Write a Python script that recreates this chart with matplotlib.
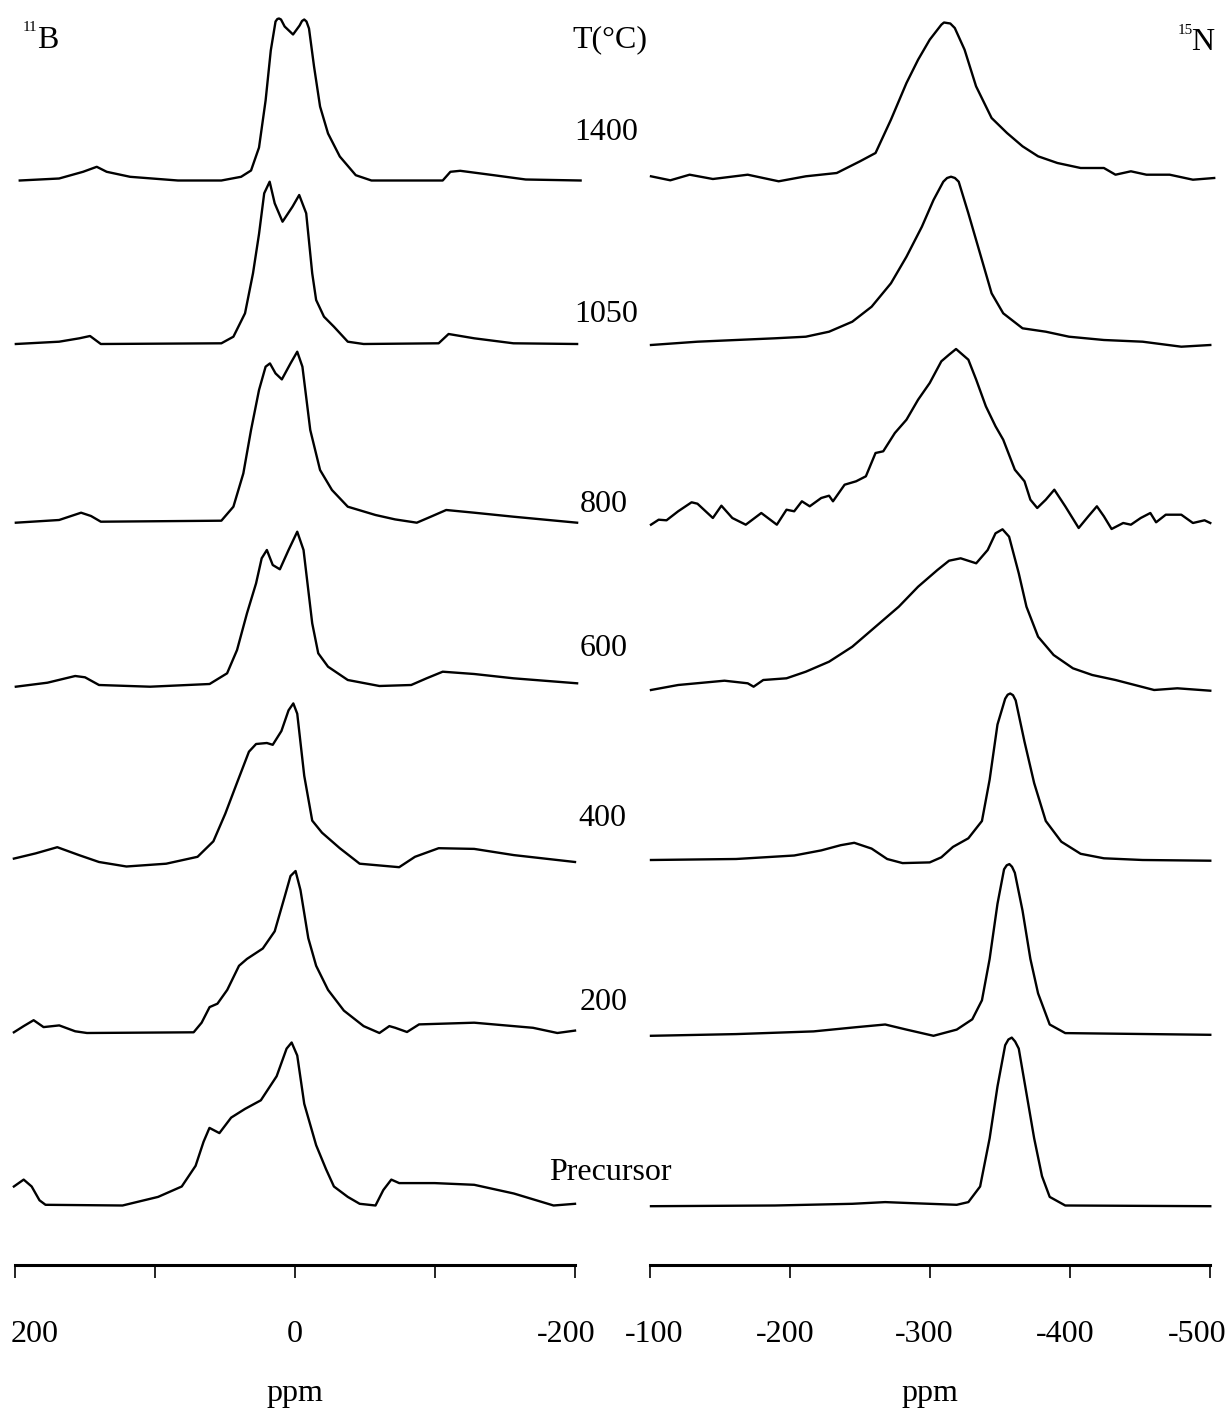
"""
11B / 15N solid-state NMR spectra vs. pyrolysis temperature (stacked plot)
"""
import matplotlib
matplotlib.use("Agg")
import matplotlib.pyplot as plt
import matplotlib.transforms as mtransforms

plt.rcParams["font.family"] = ["Liberation Serif", "DejaVu Serif"]

W, H = 1227, 1417
DPI = 100

# ── data (ppm, intensity) ─────────────────────────────────────────
temps = ["1400", "1050", "800", "600", "400", "200", "Precursor"]

b1400_x = [196.6, 168.5, 151.4, 141.6, 134.5, 117.8, 83.6, 52.6, 38.5, 31.4, 25.7, 21.0, 17.3, 13.9, 12.6, 11.4, 10.0,
           7.4, 1.4, -3.3, -5.0, -6.6, -8.2, -10.0, -13.6, -17.9, -23.6, -32.0, -43.4, -54.6, -105.5, -111.0, -118.0,
           -142.0, -164.8, -204.0]
b1400_y = [0, 2, 8.7, 13.7, 8.7, 3.7, 0, 0, 3.7, 10, 33, 80, 130, 159, 161.5, 162, 161,
           154, 146, 155, 159.5, 161, 159, 152, 114, 74, 47, 24, 5.3, 0, 0, 8.7, 9.7,
           5.3, 1, 0]

b1050_x = [199.4, 168.5, 154.0, 146.4, 138.7, 52.6, 44.0, 35.7, 30.0, 25.7, 22.0, 18.1, 14.5, 8.9, 1.8, -3.0,
           -8.0, -12.3, -15.1, -20.7, -27.8, -37.7, -49.0, -102.6, -109.7, -128.0, -156.0, -201.5]
b1050_y = [0, 2.3, 5.7, 8, 0, 0.7, 7.3, 30.7, 70.7, 110, 150.7, 162.3, 140.7, 122.3, 137.3, 149,
           130.7, 70.7, 44, 27.3, 17.3, 2.3, 0, 0.7, 10, 5.7, 0.7, 0]

b800_x = [199.4, 168.5, 152.8, 145.7, 138.7, 52.6, 44.0, 36.9, 31.4, 25.7, 21.0, 17.9, 13.9, 9.4, 3.2, -1.6,
          -5.3, -10.9, -17.9, -26.4, -37.7, -57.5, -71.5, -87.0, -97.0, -108.0, -128.0, -156.0, -201.5]
b800_y = [0, 2.7, 10, 6.7, 1, 2, 16, 49.3, 92.7, 132.7, 156, 159.3, 149.3, 143.3, 159.3, 171,
          156, 92.7, 52.7, 32.7, 16, 7.7, 3.3, 0, 6, 12.7, 10, 6, 0]

b600_x = [199.4, 176.8, 157.0, 150.0, 140.0, 103.5, 61.0, 48.5, 41.4, 34.3, 27.8, 23.8, 20.1, 15.9, 10.8, 4.6,
          -1.6, -6.1, -12.3, -16.6, -23.6, -37.7, -60.3, -83.0, -94.0, -105.5, -128.0, -156.0, -201.5]
b600_y = [-1.7, 2.3, 9, 7.7, 0, -1.7, 1, 11.7, 35, 71.7, 101.7, 126.7, 135, 120, 115.7, 135,
          153.3, 135, 61.7, 31.7, 18.3, 5, -1, 0, 6.7, 13.3, 11, 6.7, 1.7]

b400_x = [200.8, 185.3, 169.8, 154.3, 140.0, 120.4, 92.0, 69.6, 58.3, 49.8, 41.4, 32.9, 27.8, 20.1, 15.9, 9.7,
          4.6, 1.2, -1.6, -6.6, -12.3, -19.3, -32.0, -46.2, -74.4, -85.7, -102.6, -128.0, -156.3, -200.0]
b400_y = [3.4, 8.6, 14.8, 6.9, 0, -4.5, -1.7, 5.2, 20.7, 48.3, 79.3, 110.3, 118, 119, 117.2, 131,
          151.7, 158.6, 148.3, 86.2, 41.4, 29.3, 13.8, -1.7, -5.2, 5.2, 13.8, 13.1, 6.9, 0]

b200_x = [200.8, 193.8, 186.7, 179.6, 168.4, 157.0, 148.6, 72.4, 66.7, 61.0, 55.4, 48.4, 40.0, 34.3, 23.0, 14.5,
          7.4, 3.2, -0.4, -3.9, -9.5, -15.1, -23.6, -34.9, -49.0, -60.3, -67.4, -71.6, -80.0, -88.6, -128.0,
          -170.0, -187.4, -200.0]
b200_y = [0.7, 6.9, 12.8, 5.9, 7.6, 1.7, 0, 0.7, 10.3, 25.9, 29.3, 43.1, 67.2, 74.1, 84.5, 101.7,
          136.2, 157, 162, 143, 94.8, 67.2, 43.1, 22.4, 6.9, 0, 6.9, 5.2, 1, 8.6, 10.3,
          5.2, 0, 2.4]

bpre_x = [200.8, 193.8, 188.1, 182.5, 178.2, 123.2, 97.8, 80.9, 71.0, 65.3, 61.1, 54.0, 45.6, 35.7, 24.4, 13.1,
          6.0, 2.4, -1.6, -6.6, -15.1, -22.2, -27.8, -37.7, -46.2, -57.5, -63.1, -68.8, -74.4, -99.8, -128.0,
          -156.3, -184.7, -200.0]
bpre_y = [19, 25.9, 19, 5.2, 0.7, 0, 8.6, 19, 39.7, 63.8, 77.6, 72.4, 87.9, 96.6, 105.2, 129.3,
          156.9, 163, 150, 101.7, 60.3, 36.2, 19, 8.6, 1.7, 0, 15.5, 25.9, 22.4, 22.4, 20.7,
          12, 0, 1.7]

n1400_x = [-100.7, -114.5, -128.3, -144.9, -169.8, -191.9, -211.3, -233.4, -250.0, -261.1, -272.1, -283.2,
           -291.5, -299.8, -308.1, -310.0, -312.2, -314.5, -317.7, -324.7, -332.9, -344.0, -355.0, -366.1,
           -377.2, -391.0, -407.6, -424.2, -432.5, -443.5, -454.6, -471.2, -487.8, -503.0]
n1400_y = [1.7, -2.3, 3.3, -1, 3.3, -3.3, 1.7, 5, 16.7, 25, 58.3, 95,
           118.3, 138.3, 153.3, 155.5, 155, 154.5, 150, 128.3, 91.7, 60, 45, 31.7,
           21.7, 15, 10, 10, 3.3, 6.7, 3.3, 3.3, -1.7, 0]

n1050_x = [-100.7, -133.9, -161.5, -189.2, -211.3, -227.9, -244.5, -258.3, -272.1, -283.2, -294.2, -302.5,
           -309.5, -312.2, -315.0, -317.8, -320.5, -327.4, -337.1, -344.0, -352.3, -366.1, -382.7, -399.3,
           -424.2, -451.9, -479.5, -500.2]
n1050_y = [0, 3.3, 5, 6.7, 8.3, 13.3, 23.3, 38.3, 61.7, 88.3, 118.3, 145,
           163.3, 167, 168.3, 167, 163.3, 131.7, 85, 51.7, 31.7, 16.7, 13.3, 8.3,
           5, 3.3, -1.7, 0]

n800_x = [-100.7, -106.2, -111.8, -120.1, -129.7, -133.9, -144.9, -151.0, -158.8, -168.4, -179.5, -190.6,
          -197.5, -203.0, -208.5, -214.1, -222.3, -227.9, -230.7, -239.0, -247.2, -254.2, -261.1, -266.6,
          -274.9, -283.2, -291.5, -299.8, -308.1, -313.6, -318.6, -327.4, -333.0, -339.9, -346.8, -352.3,
          -360.6, -367.5, -371.7, -376.6, -382.7, -388.8, -396.6, -406.2, -413.1, -419.2, -424.2, -429.7,
          -438.0, -443.5, -450.5, -457.4, -461.5, -468.4, -479.5, -487.8, -496.1, -500.2]
n800_y = [-1.7, 3.3, 2.7, 11.7, 20.7, 19.3, 5, 17.3, 5, -1.7, 10, -1.7,
          13.3, 11.7, 21.7, 16.7, 25, 27.3, 21.7, 38.3, 41.7, 46.7, 70, 71.7,
          90, 103.3, 123.3, 140, 161.7, 168.3, 174, 163.3, 143.3, 116.7, 96.7, 83.3,
          53.3, 41.7, 23.3, 15, 23.3, 33.3, 16.7, -5, 6.7, 16.7, 6.7, -6,
          0, -1.7, 5, 10, 0.7, 8.3, 8.3, 0, 2.7, 0]

n600_x = [-100.7, -120.1, -153.2, -169.8, -174.0, -180.9, -197.5, -211.3, -227.9, -244.5, -261.1, -277.7,
          -291.5, -305.3, -313.6, -321.9, -333.0, -341.2, -346.8, -351.8, -356.5, -363.4, -368.9, -377.2,
          -388.3, -402.1, -415.9, -432.5, -446.3, -460.1, -476.7, -500.2]
n600_y = [0, 5, 9.3, 6.7, 3.3, 10, 11.7, 18.3, 28.3, 43.3, 63.3, 83.3,
          103.3, 120, 129.3, 131.7, 126.7, 140, 156.7, 160.7, 153.3, 116.7, 83.3, 53.3,
          35, 21.7, 15, 10, 5, 0, 1.7, -0.7]

n400_x = [-100.7, -161.5, -203.0, -222.3, -236.2, -245.9, -258.3, -269.4, -280.4, -299.8, -308.1, -316.4,
          -327.4, -337.1, -342.6, -348.2, -353.7, -355.5, -357.3, -359.3, -361.2, -367.5, -374.4, -382.7,
          -393.8, -407.6, -424.2, -451.9, -500.2]
n400_y = [0.7, 1.7, 5.2, 10.3, 15.5, 17.9, 12.1, 1.7, -2.4, -1.7, 3.4, 13.8,
          22.4, 39.7, 81, 136.2, 162, 166, 167.2, 165.5, 160.3, 119, 77.6, 39.7,
          19, 6.9, 2.4, 0.7, 0]

n200_x = [-100.7, -161.5, -216.8, -247.2, -268.0, -283.2, -302.5, -319.1, -330.2, -337.1, -342.6, -348.2,
          -352.9, -354.8, -356.7, -358.6, -360.6, -366.1, -371.7, -377.2, -385.5, -396.6, -500.2]
n200_y = [-1, 0.7, 3.4, 7.6, 10.3, 5.2, -1, 5.2, 15.5, 34.5, 75.9, 131,
          165.5, 169.5, 170.7, 168, 162, 124.1, 75.9, 41.4, 10.3, 1.7, 0]

npre_x = [-100.7, -189.2, -244.5, -268.0, -286.0, -319.1, -327.4, -335.8, -342.6, -348.2, -353.7, -356.0,
          -358.4, -360.8, -363.4, -368.9, -374.4, -380.0, -385.5, -396.6, -500.2]
npre_y = [-0.7, 0, 1.7, 3.4, 2.4, 0.7, 3.4, 19, 67.2, 119, 160.3, 166,
          167.9, 164, 156.9, 112.1, 67.2, 29.3, 8.6, 0, -0.7]

b_x = [b1400_x, b1050_x, b800_x, b600_x, b400_x, b200_x, bpre_x]
b_y = [b1400_y, b1050_y, b800_y, b600_y, b400_y, b200_y, bpre_y]
n_x = [n1400_x, n1050_x, n800_x, n600_x, n400_x, n200_x, npre_x]
n_y = [n1400_y, n1050_y, n800_y, n600_y, n400_y, n200_y, npre_y]

b_ticks = [200, 100, 0, -100, -200]
b_ticklabels = ["200", "", "0", "", "-200"]
n_ticks = [-100, -200, -300, -400, -500]
n_ticklabels = ["-100", "-200", "-300", "-400", "-500"]

# ── layout (pixel positions of the stacked baselines) ─────────────
AXIS_Y = 1265
b_base = [180.5, 344, 522.7, 685, 862, 1033, 1205.5]
n_base = [178, 345, 523, 690, 860.7, 1034.8, 1205.5]
label_pos = [(606, 133), (606, 314), (604, 505), (604, 649), (602, 818), (604, 1002), (610, 1173)]
# horizontal nudges (px) of the tick labels, as in the original figure
b_label_dx = [20, 0, 0, 0, -9]
n_label_dx = [4, -5, -6, -5, -13]


def fx(px):
    return px / W


def fy(py):
    return 1 - py / H


fig = plt.figure(figsize=(W / DPI, H / DPI), dpi=DPI)
fig.patch.set_facecolor("white")

FS = 23


def make_axes(x0, x1, xlim, ticks, ticklabels, dxs):
    ax = fig.add_axes([fx(x0), fy(AXIS_Y), fx(x1) - fx(x0), AXIS_Y / H])
    ax.set_xlim(*xlim)
    ax.set_ylim(0, AXIS_Y)
    ax.patch.set_alpha(0)
    for s in ["top", "left", "right"]:
        ax.spines[s].set_visible(False)
    ax.spines["bottom"].set_linewidth(2.2)
    ax.set_yticks([])
    ax.set_xticks(ticks)
    ax.set_xticklabels(ticklabels, fontsize=FS)
    ax.tick_params(axis="x", direction="out", length=9.5, width=1.2, pad=30)
    for lab, dx in zip(ax.get_xticklabels(), dxs):
        lab.set_transform(lab.get_transform() +
                          mtransforms.ScaledTranslation(dx / DPI, 0, fig.dpi_scale_trans))
    ax.set_xlabel("ppm", fontsize=FS, labelpad=22)
    return ax


axB = make_axes(15, 575, (200, -200), b_ticks, b_ticklabels, b_label_dx)
axN = make_axes(650, 1210, (-100, -500), n_ticks, n_ticklabels, n_label_dx)

for xs, ys, base in zip(b_x, b_y, b_base):
    off = AXIS_Y - base
    axB.plot(xs, [v + off for v in ys], color="black", lw=1.7, clip_on=False,
             solid_joinstyle="round")

for xs, ys, base in zip(n_x, n_y, n_base):
    off = AXIS_Y - base
    axN.plot(xs, [v + off for v in ys], color="black", lw=1.7, clip_on=False,
             solid_joinstyle="round")

# ── labels ────────────────────────────────────────────────────────
for t, (px, py) in zip(temps, label_pos):
    fig.text(fx(px), fy(py), t, fontsize=FS, ha="center", va="center")
fig.text(fx(610), fy(40), "T(°C)", fontsize=FS, ha="center", va="center")

fig.text(fx(23), fy(31), "11", fontsize=11, ha="left", va="baseline")
fig.text(fx(37), fy(48), "B", fontsize=FS, ha="left", va="baseline")
fig.text(fx(1178), fy(34), "15", fontsize=11, ha="left", va="baseline")
fig.text(fx(1191), fy(50), "N", fontsize=FS, ha="left", va="baseline")

fig.savefig("out.png", dpi=DPI, facecolor="white")
